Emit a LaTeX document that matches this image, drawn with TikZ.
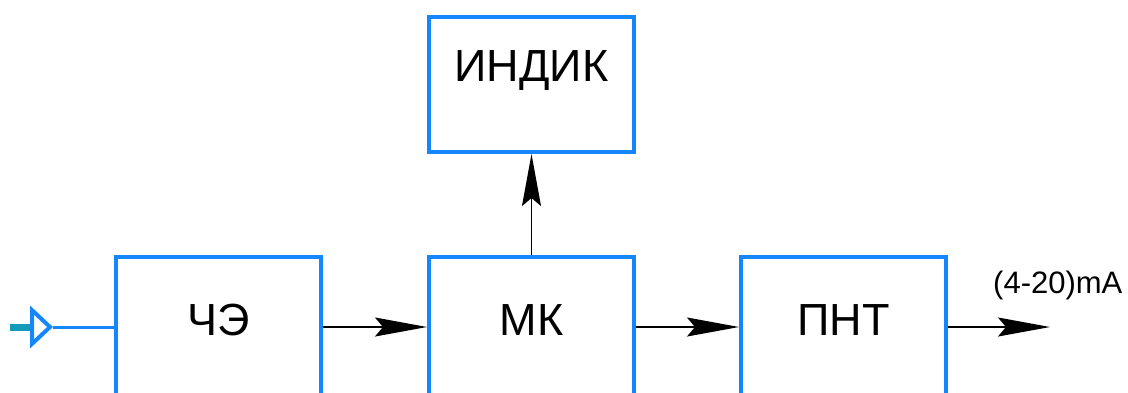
\documentclass[tikz,border=0pt]{standalone}
\usepackage{fontspec}
\setmainfont{Liberation Sans}
\usepackage{xcolor}
\usetikzlibrary{arrows.meta,positioning}
\definecolor{boxblue}{RGB}{20,135,255}
\definecolor{stubteal}{RGB}{20,155,185}
\tikzset{
  block/.style={draw=boxblue, line width=4pt, minimum width=205pt, minimum height=140pt,
    text depth=14pt, font=\fontsize{45}{50}\selectfont},
  sig/.style={line width=1.6pt, -{Stealth[length=52pt,width=19pt,inset=8pt]}},
}

\begin{document}
\begin{tikzpicture}[x=1pt,y=-1pt]
        \useasboundingbox (0,0) rectangle (1128,392);
        \clip (0,0) rectangle (1128,392);
        % blocks
        \node[block] (che) at (218.5,327) {ЧЭ};
        \node[block, right=104pt of che] (mk) {МК};
        \node[block, right=103pt of mk] (pnt) {ПНТ};
        \node[block, minimum height=135pt, text depth=37pt, above=101pt of mk] (indik) {ИНДИК};
        % input
        \coordinate (in) at (10,327);
        \coordinate (intip) at (53,327);
        \draw[stubteal, line width=7pt, -{Triangle[open, length=23pt, width=42pt, line width=4pt, color=boxblue]}] (in) -- (intip);
        \draw[boxblue, line width=3pt] (intip) -- (che.west);
        % signals
        \draw[sig] (che.east) -- (mk.west);
        \draw[sig] (mk.east) -- (pnt.west);
        \draw[sig] (mk.north) -- (indik.south);
        \coordinate (out) at (1050,327);
        \draw[sig] (pnt.east) -- (out);
        \node[anchor=base west, inner sep=0pt, font=\fontsize{31}{35}\selectfont] (range) at (993,293) {(4-20)mA};
    \end{tikzpicture}
\end{document}
